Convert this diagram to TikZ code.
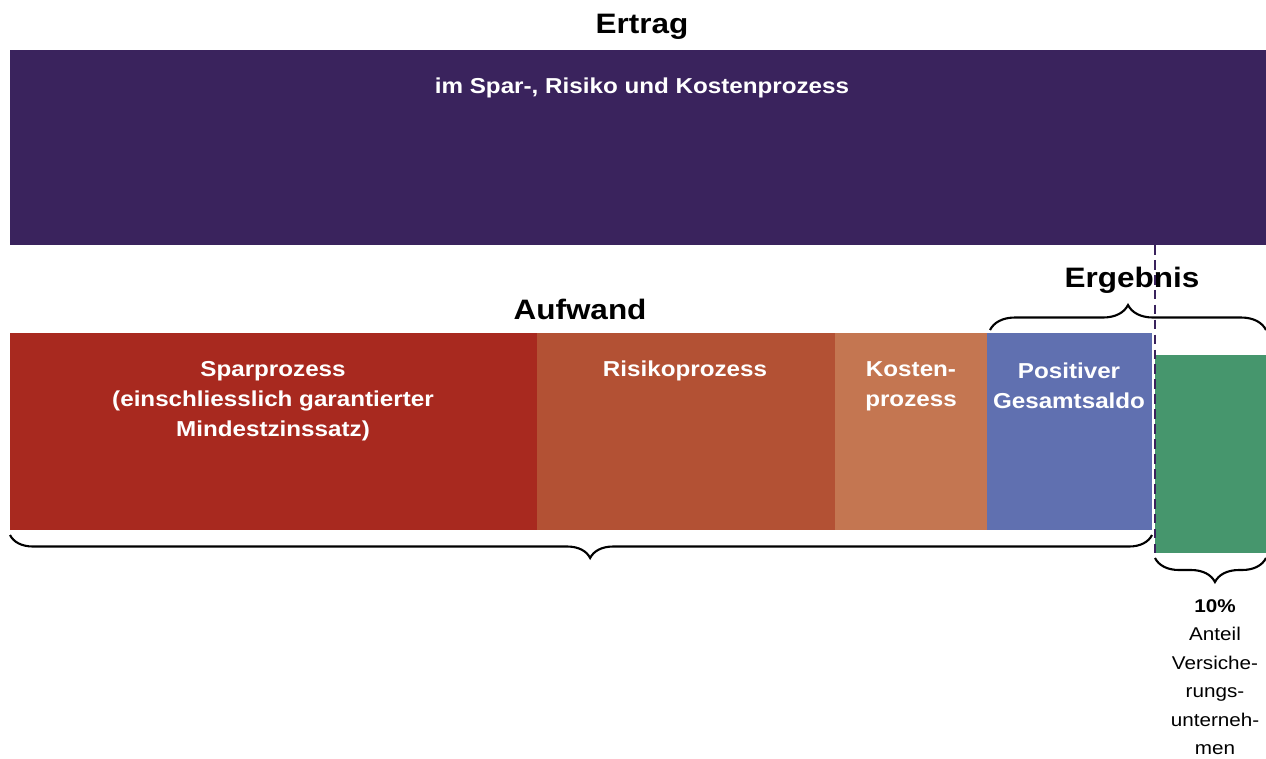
\documentclass[tikz,border=0pt]{standalone}
\usepackage{fontspec}
\setmainfont{Liberation Sans}[FakeStretch=1.12]
\usetikzlibrary{decorations.pathreplacing}
\definecolor{ertragc}{HTML}{3A235D}
\definecolor{sparc}{HTML}{A8291F}
\definecolor{risikoc}{HTML}{B35134}
\definecolor{kostenc}{HTML}{C47651}
\definecolor{saldoc}{HTML}{6070B0}
\definecolor{anteilc}{HTML}{46966D}
\tikzset{
  bar/.style={draw=none, inner sep=0pt, outer sep=0pt, anchor=north west},
  bartext/.style={text=white, align=center, inner sep=0pt, font=\bfseries\fontsize{12.3}{17}\selectfont},
  heading/.style={text=black, inner sep=0pt, font=\bfseries\fontsize{16}{19}\selectfont},
  bracestyle/.style={draw=black, line width=1.2pt, decorate},
  note/.style={align=center, inner sep=0pt, font=\fontsize{10.5}{16.2}\selectfont}
}
\begin{document}
\begin{tikzpicture}[x=0.02cm, y=-0.02cm]
\useasboundingbox (0,0) rectangle (1266,758);
% top
\node[heading] (ertrag) at (642,27) {Ertrag};
\node[bar, fill=ertragc, minimum width=25.12cm, minimum height=3.9cm] (ertragbar) at (10,50) {};
\node[bartext] (ertragtext) at (642,88) {im Spar-, Risiko und Kostenprozess};
% bars
\node[bar, fill=sparc, minimum width=10.54cm, minimum height=3.94cm] (spar) at (10,333) {};
\node[bar, fill=risikoc, minimum width=5.96cm, minimum height=3.94cm] (risiko) at (537,333) {};
\node[bar, fill=kostenc, minimum width=3.04cm, minimum height=3.94cm] (kosten) at (835,333) {};
\node[bar, fill=saldoc, minimum width=3.3cm, minimum height=3.94cm] (saldo) at (987,333) {};
\node[bar, fill=anteilc, minimum width=2.22cm, minimum height=3.96cm] (anteil) at (1155,355) {};
\node[bartext] (spartext) at (273,401) {Sparprozess\\(einschliesslich garantierter\\Mindestzinssatz)};
\node[bartext] (risikotext) at (685,371) {Risikoprozess};
\node[bartext] (kostentext) at (911,386) {Kosten-\\prozess};
\node[bartext] (saldotext) at (1069,386) {Positiver\\Gesamtsaldo};
% dashed line
\coordinate (dtop) at (1155,245);
\coordinate (dbot) at (1155,553);
\draw[ertragc, line width=1.6pt, dash pattern=on 5.5pt off 3pt] (dtop) -- (dbot);
% headings
\node[heading] (aufwand) at (580,309) {Aufwand};
\node[heading] (ergebnis) at (1132,280) {Ergebnis};
% braces
\coordinate (b1a) at (990,330);
\coordinate (b1b) at (1266,330);
\draw[bracestyle, decoration={brace, amplitude=0.5cm, aspect=0.5}] (b1a) -- (b1b);
\coordinate (b2a) at (10,535);
\coordinate (b2b) at (1152,535);
\draw[bracestyle, decoration={brace, mirror, amplitude=0.46cm, aspect=0.508}] (b2a) -- (b2b);
\coordinate (b3a) at (1155,558);
\coordinate (b3b) at (1266,558);
\draw[bracestyle, decoration={brace, mirror, amplitude=0.48cm, aspect=0.54}] (b3a) -- (b3b);
% note
\node[note] (anteiltext) at (1215,677) {\textbf{10\%}\\Anteil\\Versiche-\\rungs-\\unterneh-\\men};
\end{tikzpicture}
\end{document}
